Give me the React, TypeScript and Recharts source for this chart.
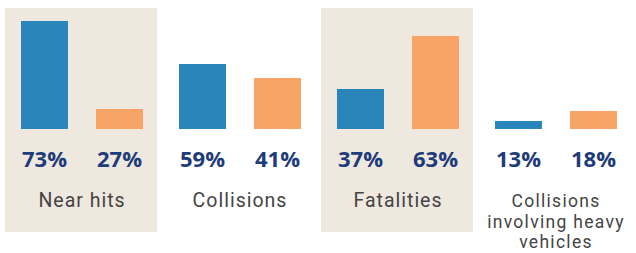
import { BarChart, Bar, XAxis, YAxis, ReferenceArea, LabelList } from "recharts";

const categories = ["Near hits", "Collisions", "Fatalities", "Collisions involving heavy vehicles"];
// bar heights as drawn (they do not scale with the printed percentages)
const blueBar = [108, 65, 40, 8];
const orangeBar = [20, 51, 93, 18];
const bluePct = ["73%", "59%", "37%", "13%"];
const orangePct = ["27%", "41%", "63%", "18%"];
const shaded = ["Near hits", "Fatalities"];

const data = categories.map((name, i) => ({
  name,
  blue: blueBar[i],
  orange: orangeBar[i],
  bluePct: bluePct[i],
  orangePct: orangePct[i],
}));

const BLUE = "#2a86ba";
const ORANGE = "#f8a466";
const BEIGE = "#efe8df";
const NAVY = "#1e3b7a";
const GREY = "#444444";

const PCT_OFFSET = 38;
const CAT_BASELINE = 207;

function wrap(text: string, max = 15) {
  const lines: string[] = [];
  let cur = "";
  text.split(" ").forEach((w) => {
    const next = cur ? cur + " " + w : w;
    if (next.length > max && cur) {
      lines.push(cur);
      cur = w;
    } else cur = next;
  });
  if (cur) lines.push(cur);
  return lines;
}

const PctLabel = (props: any) => {
  const { x, y, width, height, value } = props;
  return (
    <text
      x={x + width / 2}
      y={y + height + PCT_OFFSET}
      textAnchor="middle"
      fill={NAVY}
      fontSize={22}
      fontWeight={700}
      fontFamily="'Open Sans', sans-serif"
    >
      {value}
    </text>
  );
};

const CatTick = (props: any) => {
  const { x, payload } = props;
  const lines = wrap(payload.value);
  const multi = lines.length > 1;
  return (
    <text
      x={x}
      y={CAT_BASELINE}
      textAnchor="middle"
      fill={GREY}
      fontSize={multi ? 17.5 : 19.5}
      letterSpacing={multi ? 1.3 : 1}
      fontFamily="Roboto, sans-serif"
    >
      {lines.map((l, i) => (
        <tspan key={i} x={x} dy={i === 0 ? 0 : 20.5}>
          {l}
        </tspan>
      ))}
    </text>
  );
};

const Box = (props: any) => (
  <rect x={props.x + 2} y={props.y} width={props.width - 6} height={props.height} fill={BEIGE} />
);

export default function App() {
  return (
    <div style={{ position: "absolute", left: 0, top: 0, background: "#fff" }}>
      <BarChart
        width={636}
        height={253}
        data={data}
        margin={{ top: 8, right: 1, left: 3, bottom: 0 }}
        barCategoryGap={18}
        barGap={28}
      >
        <XAxis dataKey="name" height={21} axisLine={false} tickLine={false} tick={<CatTick />} interval={0} />
        <YAxis hide domain={[-103, 121]} />
        {shaded.map((s) => (
          <ReferenceArea key={s} x1={s} x2={s} shape={<Box />} ifOverflow="visible" />
        ))}
        <Bar dataKey="blue" fill={BLUE} isAnimationActive={false}>
          <LabelList dataKey="bluePct" content={<PctLabel />} />
        </Bar>
        <Bar dataKey="orange" fill={ORANGE} isAnimationActive={false}>
          <LabelList dataKey="orangePct" content={<PctLabel />} />
        </Bar>
      </BarChart>
    </div>
  );
}
